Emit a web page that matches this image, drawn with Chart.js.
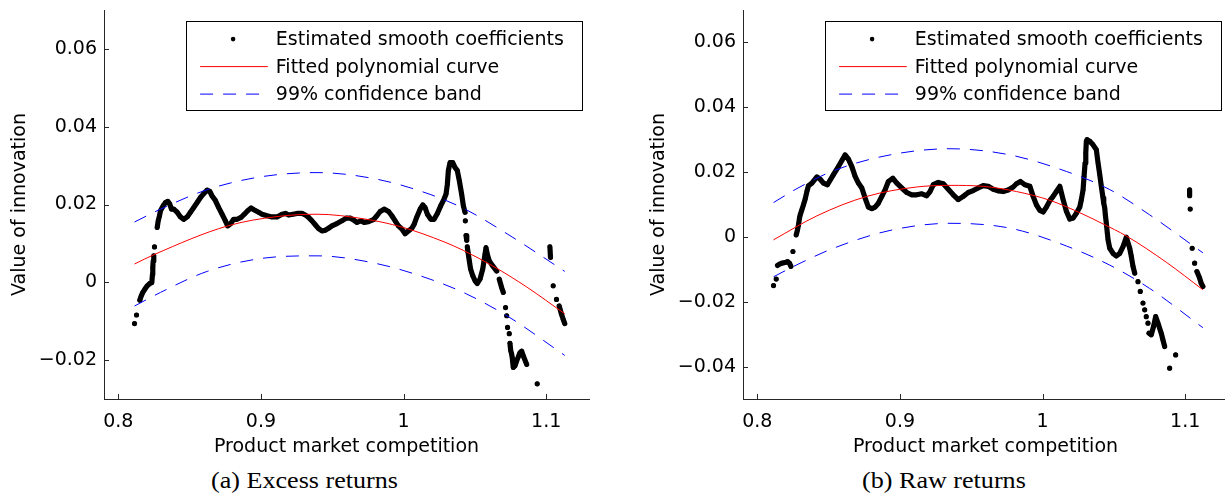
<!DOCTYPE html>
<html>
<head>
<meta charset="utf-8">
<title>Value of innovation vs product market competition</title>
<script src="https://cdn.jsdelivr.net/npm/chart.js@4.4.1/dist/chart.umd.min.js"></script>
<style>
  html, body { margin: 0; padding: 0; background: #fff; }
  body { width: 1225px; height: 504px; overflow: hidden; position: relative; }
  .panel { position: absolute; top: 0; width: 610px; height: 460px; }
  .cap { position: absolute; top: 469px; font: 23px/23px "Liberation Serif", "Times New Roman", serif;
         white-space: nowrap; transform: scaleX(1.135); transform-origin: 0 0; color: #000; }
</style>
</head>
<body>
<div class="panel" style="left:0"><canvas id="chartA"></canvas></div>
<div class="panel" style="left:639px"><canvas id="chartB"></canvas></div>
<div class="cap" style="left:211px">(a) Excess returns</div>
<div class="cap" style="left:862px">(b) Raw returns</div>
<script>
// tick labels
const xTicks = [0.8, 0.9, 1, 1.1];
const leftYTicks = [-0.02, 0, 0.02, 0.04, 0.06];
const rightYTicks = [-0.04, -0.02, 0, 0.02, 0.04, 0.06];

// (a) excess returns: estimated coefficients as [x, y]; null breaks a run of touching dots
const leftDots = [
  [0.8114, -0.0106], null,
  [0.8128, -0.0084], null,
  [0.8151, -0.0046], [0.8161, -0.0035], [0.8172, -0.0026], [0.8186, -0.0018], [0.8203, -0.0009],
  [0.8221, -0.0003], [0.8235, -0.0001], [0.8240, 0.0021], [0.8242, 0.0038], [0.8245, 0.0055], [0.8249, 0.0068], null,
  [0.8254, 0.0091], null,
  [0.8273, 0.0141], [0.8280, 0.0158], [0.8289, 0.0171], [0.8296, 0.0184], [0.8315, 0.0197], [0.8331, 0.0205],
  [0.8347, 0.0208], [0.8361, 0.0201], [0.8373, 0.0188], [0.8389, 0.0188], [0.8413, 0.0180], [0.8436, 0.0168],
  [0.8459, 0.0162], [0.8483, 0.0168], [0.8506, 0.0180], [0.8529, 0.0192], [0.8553, 0.0205], [0.8576, 0.0218],
  [0.8599, 0.0228], [0.8623, 0.0237], [0.8641, 0.0234], [0.8658, 0.0222], [0.8681, 0.0210], [0.8704, 0.0192],
  [0.8728, 0.0175], [0.8751, 0.0158], [0.8767, 0.0145], [0.8786, 0.0150], [0.8809, 0.0162], [0.8833, 0.0162],
  [0.8861, 0.0167], [0.8884, 0.0175], [0.8907, 0.0184], [0.8931, 0.0191], [0.8954, 0.0186], [0.8984, 0.0180],
  [0.9008, 0.0175], [0.9043, 0.0171], [0.9078, 0.0168], [0.9113, 0.0168], [0.9148, 0.0175], [0.9172, 0.0177],
  [0.9194, 0.0173], [0.9225, 0.0175], [0.9253, 0.0177], [0.9288, 0.0177], [0.9311, 0.0173], [0.9334, 0.0167],
  [0.9358, 0.0158], [0.9381, 0.0148], [0.9404, 0.0138], [0.9428, 0.0132], [0.9451, 0.0134], [0.9474, 0.0139],
  [0.9498, 0.0145], [0.9533, 0.0151], [0.9568, 0.0158], [0.9598, 0.0165], [0.9626, 0.0165], [0.9650, 0.0160],
  [0.9673, 0.0154], [0.9701, 0.0158], [0.9724, 0.0154], [0.9754, 0.0156], [0.9789, 0.0161], [0.9813, 0.0171],
  [0.9836, 0.0182], [0.9864, 0.0188], [0.9895, 0.0182], [0.9918, 0.0171], [0.9941, 0.0158], [0.9964, 0.0145],
  [0.9988, 0.0137], [1.0011, 0.0125], [1.0034, 0.0132], [1.0058, 0.0139], [1.0074, 0.0149], [1.0093, 0.0168],
  [1.0116, 0.0188], [1.0135, 0.0199], [1.0151, 0.0192], [1.0167, 0.0175], [1.0191, 0.0162], [1.0214, 0.0162],
  [1.0237, 0.0177], [1.0261, 0.0197], [1.0284, 0.0214], [1.0298, 0.0227], [1.0307, 0.0252], [1.0314, 0.0287],
  [1.0326, 0.0308], [1.0344, 0.0308], [1.0361, 0.0295], [1.0377, 0.0287], [1.0391, 0.0261], [1.0407, 0.0227],
  [1.0419, 0.0197], [1.0431, 0.0180], null,
  [1.0433, 0.0158], null,
  [1.0438, 0.0120], [1.0443, 0.0108], null,
  [1.0447, 0.0091], [1.0452, 0.0077], [1.0461, 0.0055], [1.0470, 0.0034], [1.0485, 0.0017], [1.0501, 0.0004],
  [1.0517, -0.0003], [1.0536, 0.0008], [1.0555, 0.0034], [1.0571, 0.0072], [1.0578, 0.0089], [1.0587, 0.0072],
  [1.0601, 0.0055], [1.0625, 0.0042], [1.0653, 0.0029], null,
  [1.0671, 0.0008], [1.0688, -0.0014], [1.0699, -0.0026], null,
  [1.0715, -0.0065], null,
  [1.0723, -0.0086], null,
  [1.0729, -0.0116], null,
  [1.0741, -0.0132], null,
  [1.0746, -0.0157], [1.0751, -0.0175], [1.0758, -0.0185], [1.0762, -0.0194], [1.0769, -0.0219], [1.0781, -0.0215],
  [1.0793, -0.0202], [1.0816, -0.0181], [1.0828, -0.0177], [1.0839, -0.0189], [1.0863, -0.0211], null,
  [1.0937, -0.0261], null,
  [1.1026, 0.0091], [1.1030, 0.0064], null,
  [1.1049, -0.0009], null,
  [1.1072, -0.0044], null,
  [1.1091, -0.0061], [1.1107, -0.0082], [1.1119, -0.0095], [1.1130, -0.0106]
];
const leftFit = [
  [0.8114, 0.0047], [0.8250, 0.0071], [0.8767, 0.0145], [0.9113, 0.0169], [0.9393, 0.0175], [0.9724, 0.0163],
  [0.9988, 0.0142], [1.0284, 0.0104], [1.0419, 0.0082], [1.0625, 0.0042], [1.0863, -0.0012], [1.1130, -0.0081]
];
const leftBandUp = [
  [0.8114, 0.0155], [0.8296, 0.0188], [0.8623, 0.0238], [0.8996, 0.0271], [0.9393, 0.0282],
  [0.9813, 0.0265], [1.0186, 0.0226], [1.0442, 0.0186], [1.0746, 0.0120], [1.1130, 0.0028]
];
const leftBandLow = [
  [0.8114, -0.0061], [0.8296, -0.0026], [0.8623, 0.0028], [0.8996, 0.0061], [0.9393, 0.0068],
  [0.9813, 0.0048], [1.0186, 0.0008], [1.0442, -0.0030], [1.0746, -0.0091], [1.1130, -0.0188]
];

// (b) raw returns
const rightDots = [
  [0.8114, -0.0150], null,
  [0.8133, -0.0130], null,
  [0.8142, -0.0088], [0.8156, -0.0084], [0.8173, -0.0081], [0.8196, -0.0079], [0.8212, -0.0076],
  [0.8226, -0.0081], [0.8236, -0.0091], null,
  [0.8250, -0.0045], null,
  [0.8273, 0.0006], [0.8282, 0.0022], [0.8289, 0.0037], [0.8296, 0.0058], [0.8301, 0.0068], [0.8313, 0.0084],
  [0.8324, 0.0099], [0.8336, 0.0117], [0.8348, 0.0140], [0.8359, 0.0158], [0.8383, 0.0166], [0.8418, 0.0185],
  [0.8441, 0.0178], [0.8464, 0.0166], [0.8492, 0.0161], [0.8534, 0.0192], [0.8569, 0.0217], [0.8616, 0.0253],
  [0.8639, 0.0240], [0.8663, 0.0217], [0.8686, 0.0187], [0.8709, 0.0166], [0.8733, 0.0151], [0.8756, 0.0120],
  [0.8779, 0.0092], [0.8803, 0.0087], [0.8826, 0.0092], [0.8849, 0.0104], [0.8873, 0.0125], [0.8896, 0.0145],
  [0.8919, 0.0171], [0.8950, 0.0181], [0.8978, 0.0166], [0.9013, 0.0151], [0.9048, 0.0137], [0.9083, 0.0130],
  [0.9118, 0.0130], [0.9153, 0.0133], [0.9188, 0.0127], [0.9211, 0.0140], [0.9234, 0.0161], [0.9269, 0.0168],
  [0.9304, 0.0164], [0.9339, 0.0147], [0.9374, 0.0130], [0.9409, 0.0115], [0.9444, 0.0125], [0.9479, 0.0137],
  [0.9514, 0.0143], [0.9549, 0.0151], [0.9584, 0.0158], [0.9619, 0.0156], [0.9654, 0.0147], [0.9689, 0.0142],
  [0.9724, 0.0140], [0.9759, 0.0145], [0.9794, 0.0154], [0.9817, 0.0164], [0.9845, 0.0171], [0.9876, 0.0161],
  [0.9911, 0.0156], [0.9934, 0.0125], [0.9957, 0.0099], [0.9981, 0.0082], [1.0004, 0.0077], [1.0027, 0.0092],
  [1.0051, 0.0112], [1.0074, 0.0125], [1.0097, 0.0140], [1.0121, 0.0156], [1.0144, 0.0115], [1.0167, 0.0079],
  [1.0191, 0.0055], [1.0214, 0.0058], [1.0237, 0.0073], [1.0261, 0.0092], [1.0272, 0.0115], [1.0284, 0.0145],
  [1.0291, 0.0187], [1.0298, 0.0228], [1.0303, 0.0259], [1.0307, 0.0295], [1.0312, 0.0300], [1.0331, 0.0295],
  [1.0354, 0.0284], [1.0377, 0.0269], [1.0389, 0.0228], [1.0401, 0.0192], [1.0412, 0.0156], [1.0424, 0.0120],
  [1.0429, 0.0104], [1.0436, 0.0089], [1.0440, 0.0068], [1.0447, 0.0042], [1.0459, -0.0009], [1.0471, -0.0035],
  [1.0494, -0.0051], [1.0517, -0.0059], [1.0541, -0.0051], [1.0564, -0.0030], [1.0587, -0.0001], [1.0611, -0.0035],
  [1.0622, -0.0060], [1.0634, -0.0091], [1.0646, -0.0112], null,
  [1.0669, -0.0138], null,
  [1.0685, -0.0168], null,
  [1.0704, -0.0204], null,
  [1.0716, -0.0225], null,
  [1.0727, -0.0246], null,
  [1.0739, -0.0266], null,
  [1.0746, -0.0297], [1.0762, -0.0302], [1.0779, -0.0275], [1.0793, -0.0246], [1.0809, -0.0266], [1.0832, -0.0297],
  [1.0844, -0.0318], [1.0856, -0.0338], null,
  [1.0891, -0.0405], null,
  [1.0933, -0.0364], null,
  [1.1031, 0.0145], [1.1031, 0.0127], null,
  [1.1035, 0.0086], null,
  [1.1049, -0.0035], null,
  [1.1066, -0.0081], null,
  [1.1082, -0.0107], [1.1101, -0.0127], [1.1112, -0.0143], [1.1124, -0.0153]
];
const rightFit = [
  [0.8114, -0.0009], [0.8418, 0.0065], [0.8768, 0.0125], [0.9118, 0.0154], [0.9351, 0.0159], [0.9584, 0.0156],
  [0.9817, 0.0140], [1.0051, 0.0113], [1.0284, 0.0070], [1.0424, 0.0040], [1.0587, 0.0003], [1.0867, -0.0078],
  [1.1124, -0.0163]
];
const rightBandUp = [
  [0.8114, 0.0106], [0.8278, 0.0149], [0.8534, 0.0204], [0.8931, 0.0253], [0.9351, 0.0272],
  [0.9771, 0.0253], [1.0167, 0.0202], [1.0471, 0.0146], [1.0751, 0.0068], [1.1124, -0.0049]
];
const rightBandLow = [
  [0.8114, -0.0123], [0.8278, -0.0086], [0.8534, -0.0035], [0.8931, 0.0020], [0.9351, 0.0042],
  [0.9771, 0.0027], [1.0167, -0.0028], [1.0471, -0.0087], [1.0751, -0.0159], [1.1124, -0.0280]
];

const axisColor = '#262626';
Chart.defaults.font.family = '"DejaVu Sans", sans-serif';
Chart.defaults.font.size = 19;
Chart.defaults.color = '#000';

function toXY(pairs) {
  return pairs.map(p => p ? { x: p[0], y: p[1] } : { x: null, y: null });
}

function fmt(v) {
  return v < 0 ? '\u2212' + String(-v) : String(v);
}

// MATLAB style ticks pointing into the plot
const innerTicks = {
  id: 'innerTicks',
  afterDraw(chart) {
    const { ctx, chartArea, scales } = chart;
    ctx.save();
    ctx.strokeStyle = axisColor;
    ctx.lineWidth = 1;
    ctx.beginPath();
    scales.x.ticks.forEach(t => {
      const px = Math.round(scales.x.getPixelForValue(t.value)) + 0.5;
      ctx.moveTo(px, chartArea.bottom);
      ctx.lineTo(px, chartArea.bottom - 5);
    });
    scales.y.ticks.forEach(t => {
      const py = Math.round(scales.y.getPixelForValue(t.value)) + 0.5;
      ctx.moveTo(chartArea.left, py);
      ctx.lineTo(chartArea.left + 5, py);
    });
    ctx.stroke();
    ctx.restore();
  }
};

// boxed legend inside the top right corner
const legendBox = {
  id: 'legendBox',
  afterDatasetsDraw(chart) {
    const { ctx, chartArea } = chart;
    const w = 396, h = 89;
    const x0 = Math.round(chartArea.right - 7.5 - w) + 0.5;
    const y0 = Math.round(chartArea.top + 10.7) + 0.5;
    ctx.save();
    ctx.fillStyle = '#fff';
    ctx.fillRect(x0, y0, w, h);
    ctx.strokeStyle = '#000';
    ctx.lineWidth = 1;
    ctx.strokeRect(x0, y0, w, h);
    const items = chart.data.datasets.filter(d => d.label);
    items.forEach((d, i) => {
      const y = y0 + 17.6 + i * 27.5;
      if (d.pointRadius > 0) {
        ctx.fillStyle = d.pointBackgroundColor;
        ctx.beginPath();
        ctx.arc(x0 + 46.6, y, d.pointRadius, 0, Math.PI * 2);
        ctx.fill();
      } else {
        ctx.strokeStyle = d.borderColor;
        ctx.lineWidth = d.borderWidth;
        ctx.setLineDash(d.borderDash || []);
        ctx.beginPath();
        ctx.moveTo(x0 + 13.6, y);
        ctx.lineTo(x0 + 81.3, y);
        ctx.stroke();
        ctx.setLineDash([]);
      }
      ctx.fillStyle = '#000';
      ctx.font = '19px "DejaVu Sans"';
      ctx.textBaseline = 'middle';
      ctx.textAlign = 'left';
      ctx.fillText(d.label, x0 + 89.3, y + 1);
    });
    ctx.restore();
  }
};

function makeChart(id, dots, fit, bandUp, bandLow, yMin, yMax, yTicks) {
  const band = {
    showLine: true, borderColor: '#0000ff', borderWidth: 1, borderDash: [13, 10],
    pointRadius: 0, cubicInterpolationMode: 'monotone', order: 1
  };
  return new Chart(document.getElementById(id), {
    type: 'scatter',
    data: {
      datasets: [
        {
          label: 'Estimated smooth coefficients',
          data: toXY(dots),
          showLine: true,
          spanGaps: false,
          borderColor: '#000',
          borderWidth: 5.2,
          borderCapStyle: 'round',
          borderJoinStyle: 'round',
          pointRadius: 2.3,
          pointBorderWidth: 0,
          pointBackgroundColor: '#000',
          order: 3
        },
        {
          label: 'Fitted polynomial curve',
          data: toXY(fit),
          showLine: true,
          borderColor: '#ff0000',
          borderWidth: 1,
          pointRadius: 0,
          cubicInterpolationMode: 'monotone',
          order: 2
        },
        Object.assign({ label: '99% confidence band', data: toXY(bandUp) }, band),
        Object.assign({ data: toXY(bandLow) }, band)
      ]
    },
    options: {
      responsive: true,
      maintainAspectRatio: false,
      animation: false,
      events: [],
      layout: { padding: { top: 10, right: 21, left: 0, bottom: 0 } },
      plugins: {
        legend: { display: false },
        tooltip: { enabled: false }
      },
      scales: {
        x: {
          type: 'linear',
          min: 0.79,
          max: 1.13,
          afterBuildTicks: s => { s.ticks = xTicks.map(v => ({ value: v })); },
          afterFit: s => { s.height = 61; s.paddingLeft = 0; s.paddingRight = 0; },
          grid: { display: false, drawTicks: false },
          border: { display: true, color: axisColor, width: 1 },
          ticks: { padding: 12, maxRotation: 0, autoSkip: false, callback: v => fmt(v) },
          title: { display: true, text: 'Product market competition', padding: { top: 0, bottom: 2 } }
        },
        y: {
          type: 'linear',
          min: yMin,
          max: yMax,
          afterBuildTicks: s => { s.ticks = yTicks.map(v => ({ value: v })); },
          afterFit: s => { s.width = 104; s.paddingTop = 0; s.paddingBottom = 0; },
          grid: { display: false, drawTicks: false },
          border: { display: true, color: axisColor, width: 1 },
          ticks: { padding: 7, autoSkip: false, callback: v => fmt(v) },
          title: { display: true, text: 'Value of innovation', padding: { top: 9, bottom: 0 } }
        }
      }
    },
    plugins: [innerTicks, legendBox]
  });
}

makeChart('chartA', leftDots, leftFit, leftBandUp, leftBandLow, -0.03, 0.07, leftYTicks);
makeChart('chartB', rightDots, rightFit, rightBandUp, rightBandLow, -0.05, 0.07, rightYTicks);
</script>
</body>
</html>
